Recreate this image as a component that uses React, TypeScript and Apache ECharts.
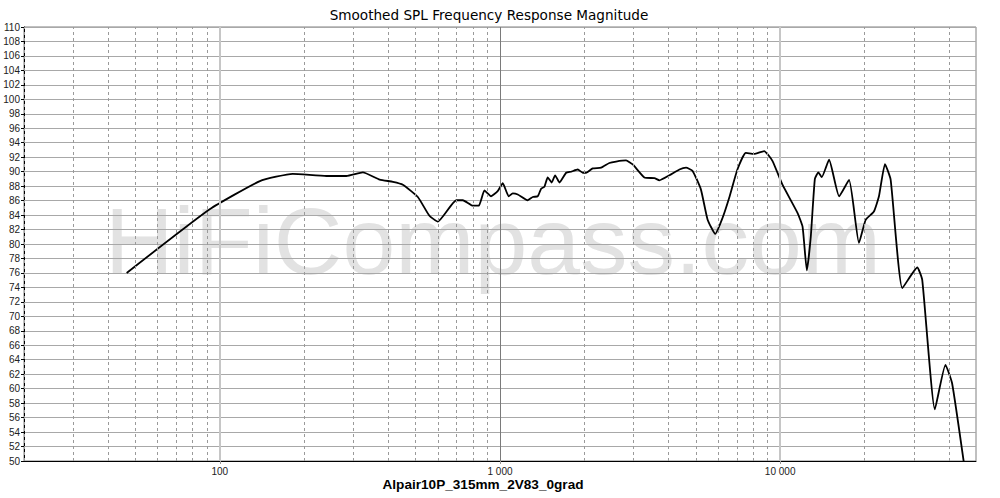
import React, { useEffect, useRef } from "react";
import * as echarts from "echarts";

const titleText = "Smoothed SPL Frequency Response Magnitude";
const xAxisTitle = "Alpair10P_315mm_2V83_0grad";
const watermarkText = "HiFiCompass.com";

// Frequency (Hz) of each traced point
const freqs = [
  46.5, 92, 139, 182, 240, 283, 324, 372, 415, 450, 509, 560, 600, 698, 737, 800, 840, 880, 929, 981,
  1023, 1074, 1110, 1157, 1256, 1309, 1364, 1402, 1440, 1480, 1529, 1573, 1630, 1722, 1794, 1895, 1974,
  2029, 2143, 2296, 2457, 2596, 2818, 2977, 3277, 3559, 3707, 4025, 4369, 4613, 4869, 5212, 5505, 5866,
  6225, 6578, 7037, 7539, 8070, 8764, 9383, 10190, 11530, 12020, 12450, 12860, 13300, 13690, 14080,
  14950, 16230, 17620, 19110, 20190, 21610, 22520, 23660, 24790, 27290, 30850, 32140, 35650, 38890,
  41080, 45200,
];
// SPL (dB) of each traced point
const levels = [
  76.0, 84.8, 88.7, 89.7, 89.4, 89.4, 89.9, 88.9, 88.6, 88.2, 86.5, 83.9, 83.1, 86.05, 86.05, 85.3, 85.3,
  87.4, 86.6, 87.3, 88.4, 86.6, 87.0, 86.85, 86.05, 86.5, 86.6, 87.65, 87.9, 89.2, 88.5, 89.5, 88.5,
  89.85, 90.0, 90.3, 89.85, 89.85, 90.45, 90.55, 91.2, 91.4, 91.55, 91.0, 89.2, 89.1, 88.8, 89.5, 90.3,
  90.55, 90.1, 87.55, 83.4, 81.4, 83.6, 86.4, 90.3, 92.6, 92.45, 92.85, 91.5, 88.2, 84.3, 82.4, 76.35,
  81.0, 89.0, 89.9, 89.25, 91.65, 86.6, 88.85, 80.15, 83.35, 84.5, 86.6, 91.05, 88.9, 73.9, 76.75, 75.05,
  57.15, 63.3, 60.75, 49.9,
];

const minorFreqs = [
  20, 30, 40, 50, 60, 70, 80, 90, 200, 300, 400, 500, 600, 700, 800, 900, 2000, 3000, 4000, 5000, 6000,
  7000, 8000, 9000, 20000, 30000, 40000,
];
const decadeFreqs = [100, 1000, 10000];
const decadeLabels = ["100", "1 000", "10 000"];

const xMin = 20;
const xMax = 50000;
const yMin = 50;
const yMax = 110;
const yStep = 2;

export default function App() {
  const ref = useRef<HTMLDivElement>(null);

  useEffect(() => {
    document.body.style.margin = "0";
    if (!ref.current) return;
    const chart = echarts.init(ref.current, undefined, { renderer: "svg" });
    const data = freqs.map((f, i) => [f, levels[i]]);

    const gridLineData: any[] = [
      ...minorFreqs.map((f) => ({
        xAxis: f,
        lineStyle: { type: [3, 3], color: "#9a9a9a", width: 1 },
      })),
      { xAxis: 100, lineStyle: { type: "solid", color: "#c6c6c6", width: 2 } },
      { xAxis: 1000, lineStyle: { type: "solid", color: "#7a7a7a", width: 1 } },
      { xAxis: 10000, lineStyle: { type: "solid", color: "#c6c6c6", width: 2 } },
    ];

    const font = 'Arial, "Liberation Sans", sans-serif';

    const option: any = {
      animation: false,
      backgroundColor: "#ffffff",
      grid: {
        left: 24,
        right: 24,
        top: 27,
        bottom: 37,
        show: true,
        borderColor: "#808080",
        borderWidth: 1,
        backgroundColor: "transparent",
      },
      xAxis: {
        type: "log",
        logBase: 10,
        min: xMin,
        max: xMax,
        axisLine: { show: true, lineStyle: { color: "#000", width: 1 } },
        axisTick: { show: true, length: 3, lineStyle: { color: "#999" } },
        splitLine: { show: false },
        axisLabel: {
          showMinLabel: false,
          showMaxLabel: false,
          fontSize: 10,
          fontFamily: font,
          color: "#222",
          margin: 5,
          formatter: (v: number) => {
            const i = decadeFreqs.indexOf(Math.round(v));
            return i >= 0 ? decadeLabels[i] : "";
          },
        },
      },
      yAxis: {
        type: "value",
        min: yMin,
        max: yMax,
        interval: yStep,
        axisLine: { show: true, lineStyle: { color: "#000", width: 1 } },
        axisTick: { show: true, length: 3, lineStyle: { color: "#000" } },
        axisLabel: { fontSize: 10, fontFamily: font, color: "#222", margin: 4 },
        splitLine: { show: true, lineStyle: { color: "#a8a8a8", width: 1 } },
      },
      series: [
        {
          type: "line",
          data: [],
          z: 1,
          silent: true,
          markLine: {
            silent: true,
            symbol: ["none", "none"],
            label: { show: false },
            emphasis: { disabled: true },
            animation: false,
            data: gridLineData,
          },
        },
        {
          type: "line",
          data,
          z: 3,
          symbol: "none",
          showSymbol: false,
          smooth: 0.15,
          silent: true,
          lineStyle: { color: "#000", width: 1.8 },
        },
      ],
      graphic: [
        {
          type: "text",
          z: -10,
          silent: true,
          style: {
            text: watermarkText,
            x: 105,
            y: 241,
            align: "left",
            verticalAlign: "middle",
            textAlign: "left",
            textVerticalAlign: "middle",
            font: 'normal 95px Arial, "Liberation Sans", sans-serif',
            fill: "#e2e2e2",
          },
        },
        {
          type: "text",
          silent: true,
          style: {
            text: titleText,
            x: 489,
            y: 15,
            align: "center",
            verticalAlign: "middle",
            textAlign: "center",
            textVerticalAlign: "middle",
            font: 'normal 13.6px "DejaVu Sans", Verdana, sans-serif',
            fill: "#000",
          },
        },
        {
          type: "text",
          silent: true,
          style: {
            text: xAxisTitle,
            x: 483,
            y: 484,
            align: "center",
            verticalAlign: "middle",
            textAlign: "center",
            textVerticalAlign: "middle",
            font: 'bold 13.6px Arial, "Liberation Sans", sans-serif',
            fill: "#000",
          },
        },
      ],
    };

    chart.setOption(option);
    return () => chart.dispose();
  }, []);

  return <div ref={ref} style={{ width: 1000, height: 498 }} />;
}
